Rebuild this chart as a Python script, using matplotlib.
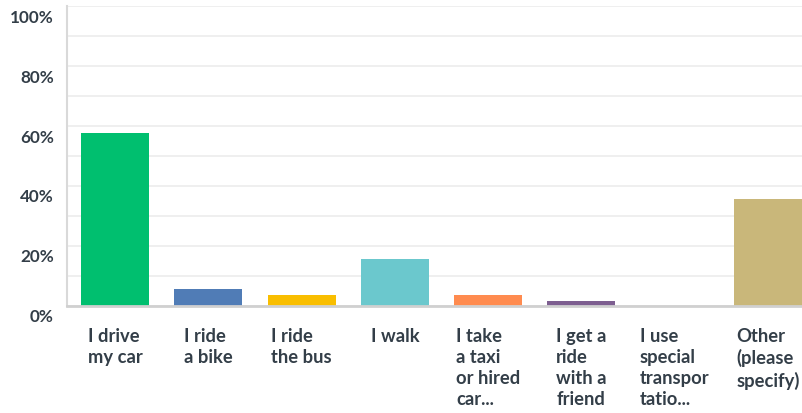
import numpy as np
import matplotlib
matplotlib.use('Agg')
import matplotlib.pyplot as plt
import matplotlib.transforms as mtransforms
from matplotlib.ticker import PercentFormatter

categories = ['I drive\nmy car', 'I ride\na bike', 'I ride\nthe bus', 'I walk',
              'I take\na taxi\nor hired\ncar...', 'I get a\nride\nwith a\nfriend',
              'I use\nspecial\ntranspor\ntatio...', 'Other\n(please\nspecify)']
values = [57.7, 5.7, 3.7, 15.7, 3.7, 1.7, 0.0, 35.7]
colors = ['#00BF6F', '#507CB6', '#F9BE00', '#6BC8CD', '#FF8B4F', '#7D5E90', '#D25F90', '#C9B77A']
yticks = [0, 20, 40, 60, 80, 100]

text_color = '#333e48'
plt.rcParams['font.family'] = ['Lato', 'DejaVu Sans']

fig = plt.figure(figsize=(8.02, 4.14), dpi=100)
ax = fig.add_axes([67 / 802, 107 / 414, 735 / 802, 300 / 414])

x = np.arange(len(categories))
ax.bar(x, values, width=0.73, color=colors, zorder=3)

ax.set_xlim(-0.515, 7.365)
ax.set_ylim(0, 100)
ax.set_yticks(yticks)
ax.set_yticks(np.arange(10, 100, 10), minor=True)
ax.yaxis.set_major_formatter(PercentFormatter(decimals=0))
ax.grid(axis='y', which='both', color='#ececec', linewidth=1.2, zorder=0)
ax.set_xticks(x)
ax.set_xticklabels(categories, fontsize=13.2, fontweight='bold', color=text_color,
                   ha='center', multialignment='left', linespacing=1.3)
ax.tick_params(axis='x', length=0, pad=15)
ax.tick_params(axis='y', which='both', length=0, pad=9.5, labelsize=12.3,
               labelcolor=text_color)
for lab in ax.get_yticklabels():
    lab.set_fontweight('bold')
    lab.set_transform(lab.get_transform() + mtransforms.ScaledTranslation(0, -9 / 100, fig.dpi_scale_trans))

for s in ['top', 'right']:
    ax.spines[s].set_visible(False)
ax.spines['left'].set_color('#d9d9d9')
ax.spines['left'].set_linewidth(1.5)
ax.spines['bottom'].set_color('#d0d0d0')
ax.spines['bottom'].set_linewidth(2)
ax.spines['bottom'].set_zorder(4)

fig.savefig('out.png', dpi=100)
